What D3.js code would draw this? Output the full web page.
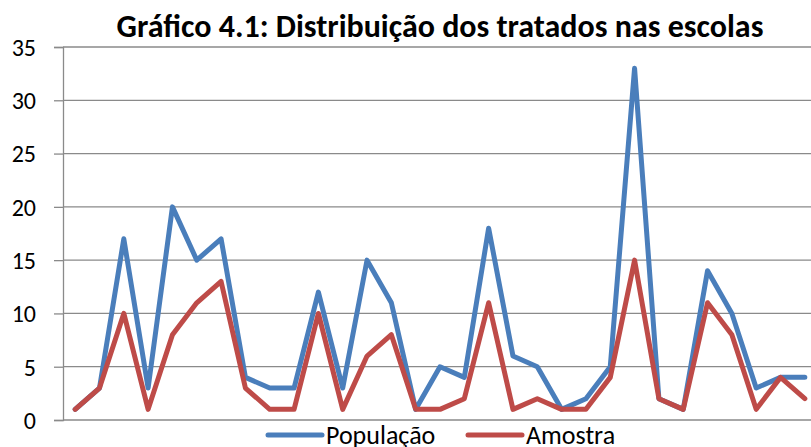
<!DOCTYPE html>
<html>
<head>
<meta charset="utf-8">
<script src="https://cdn.jsdelivr.net/npm/d3@7"></script>
<style>
  body { margin: 0; background: #fff; }
  text { font-family: Carlito, "Open Sans", sans-serif; fill: #000; }
</style>
</head>
<body>
<div id="viz"></div>
<script>
var width = 811
var height = 447

// data
var escolas = ["1","2","3","4","5","6","7","8","9","10","11","12","13","14","15","16",
  "17","18","19","20","21","22","23","24","25","26","27","28","29","30","31"]
var populacao = [1,3,17,3,20,15,17,4,3,3,12,3,15,11,1,5,4,18,6,5,1,2,5,33,2,1,14,10,3,4,4]
var amostra = [1,3,10,1,8,11,13,3,1,1,10,1,6,8,1,1,2,11,1,2,1,1,4,15,2,1,11,8,1,4,2]
var yTicks = [0, 5, 10, 15, 20, 25, 30, 35]
var series = [
  {name: "População", values: populacao, color: "#4a7ebb"},
  {name: "Amostra", values: amostra, color: "#be4b48"}
]

var svg = d3.select("#viz")
  .append("svg")
  .attr("width", width)
  .attr("height", height)

// plot area (right side is cut off by the picture edge)
var plotLeft = 63, plotRight = 817, plotTop = 47, plotBottom = 420

var x = d3.scalePoint()
  .domain(escolas)
  .range([plotLeft, plotRight])
  .padding(0.5)

var y = d3.scaleLinear()
  .domain([0, 35])
  .range([plotBottom, plotTop])

// gridlines
svg.append("g")
  .selectAll("line")
  .data(yTicks)
  .enter().append("line")
    .attr("x1", plotLeft)
    .attr("x2", plotRight)
    .attr("y1", d => y(d))
    .attr("y2", d => y(d))
    .style("stroke", "#8a8a8a")
    .style("stroke-width", 1.3)

// y axis
var yAxis = svg.append("g")
  .attr("transform", "translate(" + plotLeft + ",0)")
  .call(d3.axisLeft(y).tickValues(yTicks).tickSize(9).tickPadding(18))
yAxis.select(".domain").attr("stroke", "#8a8a8a").attr("stroke-width", 1.3)
yAxis.selectAll(".tick line").attr("stroke", "#8a8a8a").attr("stroke-width", 1.3)
yAxis.selectAll(".tick text")
  .style("font-size", "24px")
  .attr("dy", "0.35em")

// lines
var line = d3.line()
  .x((d, i) => x(escolas[i]))
  .y(d => y(d))

svg.append("g")
  .selectAll("path")
  .data(series)
  .enter().append("path")
    .attr("d", d => line(d.values))
    .attr("fill", "none")
    .style("stroke", d => d.color)
    .style("stroke-width", 5)
    .style("stroke-linejoin", "round")
    .style("stroke-linecap", "round")

// title
svg.append("text")
  .attr("x", 440)
  .attr("y", 37)
  .attr("text-anchor", "middle")
  .style("font-size", "32px")
  .style("font-weight", "bold")
  .text("Gráfico 4.1: Distribuição dos tratados nas escolas")

// legend
var legendX = [268, 468]
var legend = svg.append("g")
  .selectAll("g")
  .data(series)
  .enter().append("g")
    .attr("transform", (d, i) => "translate(" + legendX[i] + ",435)")

legend.append("line")
  .attr("x1", 0)
  .attr("x2", 54)
  .style("stroke", d => d.color)
  .style("stroke-width", 5)
  .style("stroke-linecap", "round")

legend.append("text")
  .attr("x", 58)
  .attr("y", 9)
  .style("font-size", "26px")
  .text(d => d.name)
</script>
</body>
</html>
